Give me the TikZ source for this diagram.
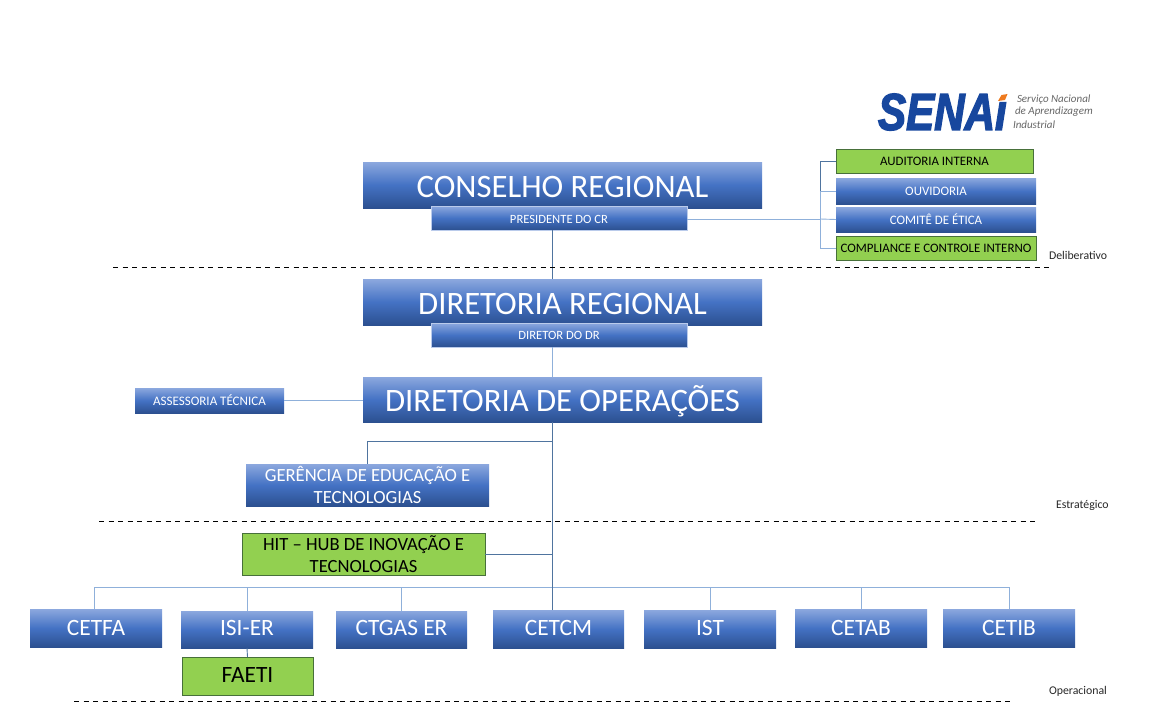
\documentclass[tikz,border=0pt]{standalone}
\usepackage{xcolor}
\usepackage{fontspec}
\setmainfont{Carlito}
\newfontfamily\logofont[FakeStretch=0.81,FakeBold=2.5]{Liberation Sans}
\definecolor{boxtop}{HTML}{8CA8DE}
\definecolor{boxmid}{HTML}{4472C4}
\definecolor{boxbot}{HTML}{2C5090}
\definecolor{boxgreen}{HTML}{92D050}
\definecolor{greenedge}{HTML}{47703A}
\definecolor{linkdark}{HTML}{4F749F}
\definecolor{linklight}{HTML}{8FB0DA}
\definecolor{senaiblue}{HTML}{17479E}
\definecolor{senaiorange}{HTML}{EE7A1F}
\definecolor{senaigray}{HTML}{666666}
\newcommand{\txt}[1]{\fontsize{#1}{#1}\selectfont}
\begin{document}
\begin{tikzpicture}[x=1pt,y=-1pt]
			\tikzstyle{every node}+=[inner sep=0pt,outer sep=0pt]
			\tikzstyle{bluebox}=[rectangle,align=center,text=white,top color=boxtop,bottom color=boxbot,middle color=boxmid]
			\tikzstyle{greenbox}=[rectangle,align=center,text=black,fill=boxgreen,draw=greenedge,line width=0.9pt]
			\tikzstyle{headbox}=[bluebox,minimum width=399pt,text height=24pt,text depth=0pt,font=\txt{32.7}]
			\tikzstyle{subbox}=[bluebox,draw=boxtop!60,line width=0.5pt,minimum width=256pt,minimum height=24pt,font=\txt{12.6}]
			\tikzstyle{darkline}=[draw=linkdark,line width=0.9pt]
			\tikzstyle{lightline}=[draw=linklight,line width=0.9pt]
			\tikzstyle{levelline}=[draw=black,line width=0.9pt,dash pattern=on 5pt off 4.5pt]
			\tikzstyle{levelname}=[text=black!85]
			\useasboundingbox (0,0) rectangle (1152,725);
			% logo
			\node [text=senaiblue,anchor=west] (senai) at (878,112) {\logofont\txt{52}\bfseries\itshape SENA\char"131};
			\fill [senaiorange] (998,101) -- (1001.5,95) -- (1007.5,94) -- (1005,100) -- cycle;
			\node [text=senaigray,anchor=west] (logoa) at (1017,99.5) {\txt{11}\itshape Serviço Nacional};
			\node [text=senaigray,anchor=west] (logob) at (1015,112) {\txt{11}\itshape de Aprendizagem};
			\node [text=senaigray,anchor=west] (logoc) at (1013,124.5) {\txt{11}\itshape Industrial};
			% top blocks
			\node [headbox,minimum height=46pt] (conselho) at (562.5,185) {CONSELHO REGIONAL};
			\node [subbox,text height=10pt,text depth=0pt] (presidente) at (559,218) {PRESIDENTE DO CR};
			\node [headbox,minimum height=46pt] (dirreg) at (562.5,302) {DIRETORIA REGIONAL};
			\node [subbox] (diretor) at (559,335) {DIRETOR DO DR};
			\node [headbox,minimum height=45pt] (operacoes) at (562.5,399.5) {DIRETORIA DE OPERAÇÕES};
			\node [bluebox,minimum width=149pt,minimum height=25pt] (assessoria) at (209.5,400.5) {\txt{13}ASSESSORIA TÉCNICA};
			\node [bluebox,minimum width=243pt,minimum height=42pt] (gerencia) at (367.5,485) {\txt{18.6}GERÊNCIA DE EDUCAÇÃO E\\[5.5pt]\txt{18.6}TECNOLOGIAS};
			\node [greenbox,minimum width=243pt,minimum height=42pt] (hit) at (363.5,554) {\txt{18.6}HIT -- HUB DE INOVAÇÃO E\\[5.5pt]\txt{18.6}TECNOLOGIAS};
			% right column
			\node [greenbox,minimum width=197pt,minimum height=24pt] (auditoria) at (934.5,161) {\txt{12.9}AUDITORIA INTERNA};
			\node [bluebox,minimum width=200pt,minimum height=26pt] (ouvidoria) at (936,191) {\txt{12.9}OUVIDORIA};
			\node [bluebox,minimum width=200pt,minimum height=25pt] (comite) at (936,219.5) {\txt{12.9}COMITÊ DE ÉTICA};
			\node [greenbox,minimum width=200pt,minimum height=24pt] (compliance) at (936,248) {\txt{12.9}COMPLIANCE E CONTROLE INTERNO};
			% bottom row
			\tikzstyle{every node}+=[font=\txt{23.4}]
			\node [bluebox,minimum width=132pt,minimum height=38pt] (cetfa) at (96,628) {CETFA};
			\node [bluebox,minimum width=132pt,minimum height=37pt,text height=12pt,text depth=0pt] (isier) at (247,629.5) {ISI-ER};
			\node [bluebox,minimum width=131pt,minimum height=37pt,text height=12pt,text depth=0pt] (ctgas) at (401.5,629.5) {CTGAS ER};
			\node [bluebox,minimum width=131pt,minimum height=38pt,text height=13pt,text depth=0pt] (cetcm) at (558.5,629) {CETCM};
			\node [bluebox,minimum width=132pt,minimum height=38pt,text height=13pt,text depth=0pt] (ist) at (710,629) {IST};
			\node [bluebox,minimum width=132pt,minimum height=38pt] (cetab) at (861,628) {CETAB};
			\node [bluebox,minimum width=132pt,minimum height=38pt] (cetib) at (1009,628) {CETIB};
			\node [greenbox,minimum width=131pt,minimum height=38pt,text height=13pt,text depth=0pt] (faeti) at (247.5,676) {FAETI};
			% connectors
			\coordinate (trunk) at (552,441);
			\coordinate (busleft) at (94,587);
			\coordinate (busright) at (1009,587);
			\coordinate (trunkend) at (552,587);
			\coordinate (riser) at (820,219);
			\draw [darkline] (presidente.south -| trunk) -- (dirreg.north -| trunk);
			\draw [lightline] (diretor.south -| trunk) -- (operacoes.north -| trunk);
			\draw [lightline] (assessoria.east) -- (assessoria.east -| operacoes.west);
			\draw [darkline] (operacoes.south -| trunk) -- (trunkend);
			\draw [darkline] (trunk) -| (gerencia.north);
			\draw [darkline] (hit.east) -- (hit.east -| trunk);
			\draw [lightline] (busleft) -- (busright);
			\draw [lightline] (busleft) -- (cetfa.north -| busleft);
			\draw [lightline] (isier.north |- busleft) -- (isier.north);
			\draw [lightline] (ctgas.north |- busleft) -- (ctgas.north);
			\draw [darkline] (trunkend) -- (cetcm.north -| trunk);
			\draw [lightline] (ist.north |- busleft) -- (ist.north);
			\draw [lightline] (cetab.north |- busleft) -- (cetab.north);
			\draw [lightline] (cetib.north |- busleft) -- (cetib.north);
			\draw [darkline] (isier.south) -- (faeti.north);
			\draw [lightline] (presidente.east |- riser) -- (riser);
			\draw [lightline] (riser |- ouvidoria.west) -- (riser |- compliance.west);
			\draw [darkline] (riser |- auditoria.west) -- (riser |- ouvidoria.west);
			\draw [darkline] (riser |- auditoria.west) -- (auditoria.west);
			\draw [lightline] (riser |- ouvidoria.west) -- (ouvidoria.west);
			\draw [lightline] (riser) -- (comite.west);
			\draw [lightline] (riser |- compliance.west) -- (compliance.west);
			% levels
			\coordinate (levela) at (113,267);
			\coordinate (levelb) at (1052,267);
			\coordinate (levelc) at (99,521);
			\coordinate (leveld) at (1037,521);
			\coordinate (levele) at (74,701);
			\coordinate (levelf) at (1013,701);
			\draw [levelline] (levela) -- (levelb);
			\draw [levelline] (levelc) -- (leveld);
			\draw [levelline] (levele) -- (levelf);
			\node [levelname,anchor=west,font=\txt{11.8}] (deliberativo) at (1049,255.5) {Deliberativo};
			\node [levelname,anchor=west,font=\txt{11.8}] (estrategico) at (1056,505.5) {Estratégico};
			\node [levelname,anchor=west,font=\txt{11.8}] (operacional) at (1049,691.5) {Operacional};
\end{tikzpicture}
\end{document}
